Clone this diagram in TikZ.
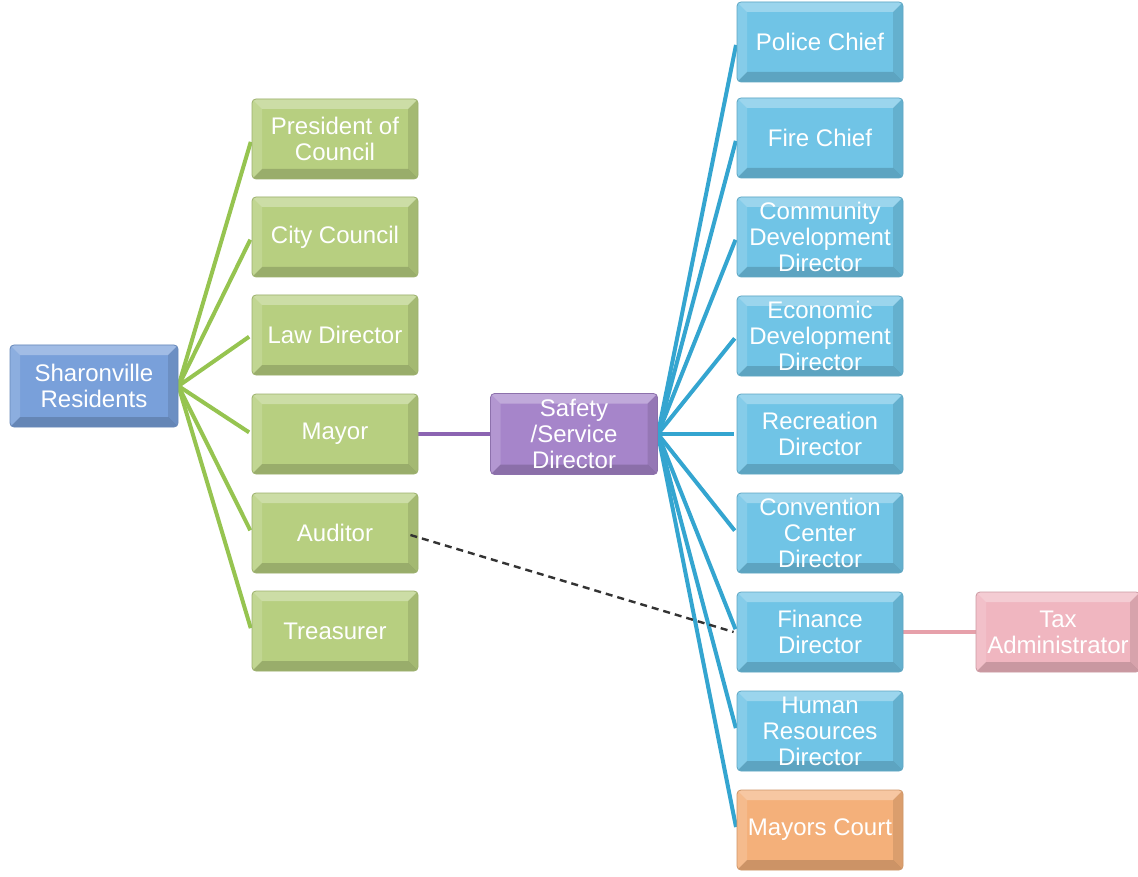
\documentclass[tikz,border=0pt]{standalone}
\usepackage{fontspec}
\setmainfont{Liberation Sans}
\usetikzlibrary{calc}
\pgfdeclarelayer{bg}
\pgfsetlayers{bg,main}
\definecolor{resblue}{RGB}{121,160,218}
\definecolor{grn}{RGB}{183,207,128}
\definecolor{purp}{RGB}{166,133,202}
\definecolor{sky}{RGB}{112,196,230}
\definecolor{orng}{RGB}{244,176,122}
\definecolor{pnk}{RGB}{240,182,192}
\definecolor{gline}{RGB}{150,196,80}
\definecolor{bline}{RGB}{52,165,208}
\definecolor{pline}{RGB}{140,100,178}
\definecolor{kline}{RGB}{230,160,170}
\tikzset{
  bevel/.style={path picture={
    \fill[white,opacity=.30,sharp corners] (path picture bounding box.north west) -- (path picture bounding box.north east)
      -- ([shift={(-10pt,-10pt)}]path picture bounding box.north east) -- ([shift={(10pt,-10pt)}]path picture bounding box.north west) -- cycle;
    \fill[white,opacity=.15,sharp corners] (path picture bounding box.north west) -- (path picture bounding box.south west)
      -- ([shift={(10pt,10pt)}]path picture bounding box.south west) -- ([shift={(10pt,-10pt)}]path picture bounding box.north west) -- cycle;
    \fill[black,opacity=.10,sharp corners] (path picture bounding box.north east) -- (path picture bounding box.south east)
      -- ([shift={(-10pt,10pt)}]path picture bounding box.south east) -- ([shift={(-10pt,-10pt)}]path picture bounding box.north east) -- cycle;
    \fill[black,opacity=.16,sharp corners] (path picture bounding box.south west) -- (path picture bounding box.south east)
      -- ([shift={(-10pt,10pt)}]path picture bounding box.south east) -- ([shift={(10pt,10pt)}]path picture bounding box.south west) -- cycle;
  }},
  box/.style={rounded corners=4pt, minimum width=166pt, minimum height=80pt, inner sep=2pt,
    align=center, text=white, font=\fontsize{24}{26}\selectfont,
    draw=#1!85!black, line width=0.8pt, fill=#1, bevel},
  glink/.style={draw=gline, line width=4pt, shorten >=3pt},
  blink/.style={draw=bline, line width=4pt, shorten >=3pt},
  plink/.style={draw=pline, line width=4pt},
  klink/.style={draw=kline, line width=4pt},
  dlink/.style={draw=black!80, line width=2.4pt, dash pattern=on 7pt off 5pt},
}
\begin{document}
\begin{tikzpicture}[x=1pt,y=-1pt]
\useasboundingbox (0,0) rectangle (1138,877);
\node[box=resblue, minimum width=168pt, minimum height=82pt] (res) at (94,386) {Sharonville\\Residents};
\node[box=grn] (pres) at (335,139) {President of\\Council};
\node[box=grn] (city) at (335,237) {City Council};
\node[box=grn] (law) at (335,335) {Law Director};
\node[box=grn] (mayor) at (335,434) {Mayor};
\node[box=grn] (aud) at (335,533) {Auditor};
\node[box=grn] (treas) at (335,631) {Treasurer};
\node[box=purp, minimum width=167pt, minimum height=81pt] (safety) at (574,434) {Safety\\/Service\\Director};
\node[box=sky] (police) at (820,42) {Police Chief};
\node[box=sky] (fire) at (820,138) {Fire Chief};
\node[box=sky] (comm) at (820,237) {Community\\Development\\Director};
\node[box=sky] (econ) at (820,336) {Economic\\Development\\Director};
\node[box=sky] (rec) at (820,434) {Recreation\\Director};
\node[box=sky] (conv) at (820,533) {Convention\\Center\\Director};
\node[box=sky] (fin) at (820,632) {Finance\\Director};
\node[box=sky] (hr) at (820,731) {Human\\Resources\\Director};
\node[box=orng] (court) at (820,830) {Mayors Court};
\node[box=pnk, minimum width=164pt] (tax) at (1058,632) {Tax\\Administrator};
\begin{pgfonlayer}{bg}
\fill[white] (0,0) rectangle (1138,877);
\foreach \g in {pres,city,law,mayor,aud,treas}
  \draw[glink] (res.east) -- (\g.west);
\foreach \b in {police,fire,comm,econ,rec,conv,fin,hr,court}
  \draw[blink] (safety.east) -- (\b.west);
\draw[plink] (mayor.east) -- (safety.west);
\draw[klink] (fin.east) -- (tax.west);
\end{pgfonlayer}
\draw[dlink] ([xshift=-8pt,yshift=-2pt]aud.east) -- ([xshift=-3pt]fin.west);
\end{tikzpicture}
\end{document}
